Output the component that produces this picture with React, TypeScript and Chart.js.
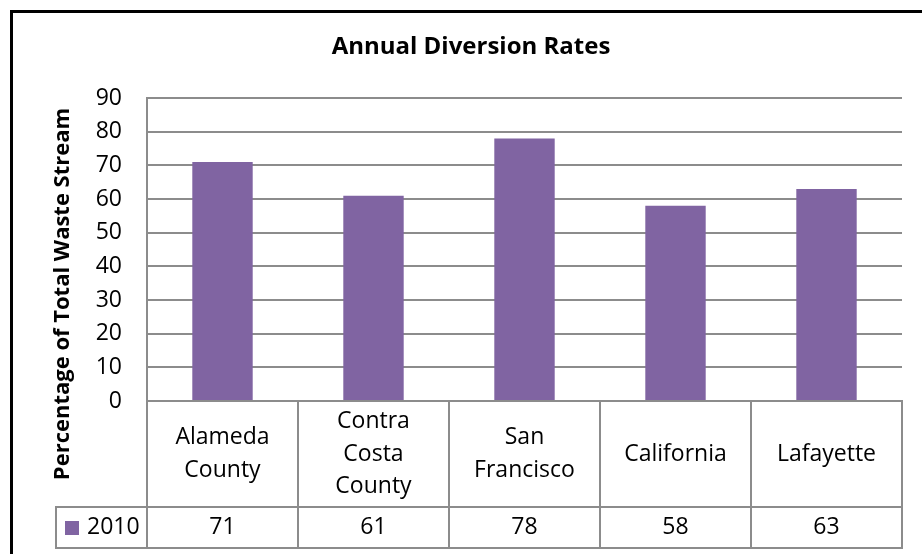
import React, { useEffect, useRef } from "react";
import { Chart, registerables } from "chart.js";

Chart.register(...registerables);

const chartTitle = "Annual Diversion Rates";
const yAxisTitle = "Percentage of Total Waste Stream";
const seriesName = "2010";
const categories = ["Alameda County", "Contra Costa County", "San Francisco", "California", "Lafayette"];
const values2010 = [71, 61, 78, 58, 63];
const yMin = 0;
const yMax = 90;
const yStep = 10;

const FONT = "'Open Sans', 'DejaVu Sans', sans-serif";
const BAR_COLOR = "#8064A2";
const GRID_COLOR = "#8c8c8c";

const framePlugin = {
  id: "frame",
  beforeDraw(chart: any) {
    const { ctx, width, height } = chart;
    ctx.save();
    ctx.fillStyle = "#ffffff";
    ctx.fillRect(0, 0, width, height);
    ctx.fillStyle = "#000000";
    ctx.fillRect(10, 10, width - 10, 3);
    ctx.fillRect(10, 10, 3, height - 10);

    // chart title
    ctx.font = `bold 24px ${FONT}`;
    ctx.textAlign = "center";
    ctx.textBaseline = "middle";
    ctx.fillText(chartTitle, 471, 47);

    // y-axis title
    ctx.save();
    ctx.translate(63, 294);
    ctx.rotate(-Math.PI / 2);
    ctx.font = `bold 22px ${FONT}`;
    ctx.fillText(yAxisTitle, 0, 0);
    ctx.restore();
    ctx.restore();
  },
};

const tablePlugin = {
  id: "dataTable",
  afterDraw(chart: any) {
    const { ctx, chartArea, scales } = chart;
    const { left, right, bottom } = chartArea;
    const x = scales.x;
    const n = categories.length;
    const colW = (right - left) / n;
    const catBottom = bottom + 106;
    const dataBottom = catBottom + 41;
    const legendLeft = 56;

    ctx.save();
    ctx.strokeStyle = GRID_COLOR;
    ctx.lineWidth = 2;
    const line = (x1: number, y1: number, x2: number, y2: number) => {
      ctx.beginPath();
      ctx.moveTo(x1, y1);
      ctx.lineTo(x2, y2);
      ctx.stroke();
    };
    line(left - 1, bottom, right + 1, bottom);
    line(legendLeft - 1, catBottom, right + 1, catBottom);
    line(legendLeft - 1, dataBottom, right + 1, dataBottom);
    for (let i = 0; i <= n; i++) {
      const xb = Math.round(left + i * colW);
      line(xb, bottom, xb, dataBottom);
    }
    line(legendLeft, catBottom, legendLeft, dataBottom);

    ctx.fillStyle = "#000000";
    ctx.textAlign = "center";
    ctx.textBaseline = "middle";
    ctx.font = `23px ${FONT}`;
    const catMid = (bottom + catBottom) / 2;
    const dataMid = (catBottom + dataBottom) / 2;
    categories.forEach((cat, i) => {
      const cx = x.getPixelForValue(i);
      const words = cat.split(" ");
      words.forEach((w, j) => {
        ctx.fillText(w, cx, catMid + (j - (words.length - 1) / 2) * 32.5);
      });
      ctx.fillText(String(values2010[i]), cx, dataMid);
    });

    ctx.fillStyle = BAR_COLOR;
    ctx.fillRect(65, Math.round(dataMid - 7), 14, 14);
    ctx.fillStyle = "#000000";
    ctx.textAlign = "left";
    ctx.fillText(seriesName, 87, dataMid);
    ctx.restore();
  },
};

export default function App() {
  const ref = useRef<HTMLCanvasElement | null>(null);

  useEffect(() => {
    document.body.style.margin = "0";
    const canvas = ref.current;
    if (!canvas) return;
    const chart = new Chart(canvas, {
      type: "bar",
      data: {
        labels: categories,
        datasets: [
          {
            label: seriesName,
            data: values2010,
            backgroundColor: BAR_COLOR,
            borderWidth: 0,
            barPercentage: 0.4,
            categoryPercentage: 1,
          },
        ],
      },
      options: {
        responsive: false,
        animation: false,
        devicePixelRatio: 1,
        layout: { padding: { left: 0, right: 20, top: 98, bottom: 153 } },
        plugins: {
          legend: { display: false },
          tooltip: { enabled: false },
          title: { display: false },
        },
        scales: {
          x: { display: false },
          y: {
            min: yMin,
            max: yMax,
            afterFit: (scale: any) => {
              scale.width = 147;
            },
            ticks: {
              stepSize: yStep,
              color: "#000000",
              font: { family: FONT, size: 23 },
              padding: 25,
            },
            grid: { color: GRID_COLOR, lineWidth: 2, drawTicks: false },
            border: { display: true, color: GRID_COLOR, width: 2 },
            title: { display: false },
          },
        },
      },
      plugins: [framePlugin, tablePlugin],
    });
    return () => chart.destroy();
  }, []);

  return (
    <div style={{ width: 922, height: 554 }}>
      <canvas ref={ref} width={922} height={554} style={{ display: "block" }} />
    </div>
  );
}
